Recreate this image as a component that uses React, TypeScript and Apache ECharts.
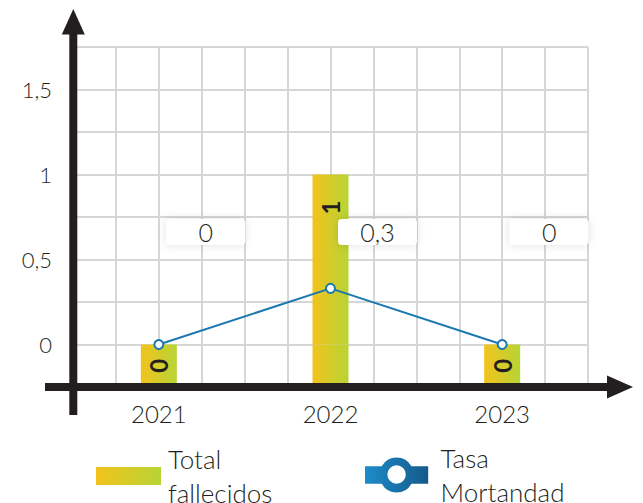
import React, { useEffect, useRef } from 'react';
import * as echarts from 'echarts';

const CATEGORIES = ['2021', '2022', '2023'];
const TOTAL_FALLECIDOS = [0, 1, 0];
const TASA_MORTANDAD = [0, 0.33, 0];
const Y_MIN = -0.25;
const Y_MAX = 1.75;
const Y_STEP = 0.25;
const Y_LABELS = [0, 0.5, 1, 1.5];
const SERIES_NAMES = ['Total fallecidos', 'Tasa Mortandad'];

const FONT = 'Lato, "Noto Sans", sans-serif';
const THIN = 300;
const INK = '#231f20';
const GRID = '#d6d6d6';
const LINE_COLOR = '#1a78b0';

const fmt = (v: number) => v.toFixed(1).replace(/\.0$/, '').replace('.', ',');

export default function App() {
  const ref = useRef<HTMLDivElement>(null);
  useEffect(() => {
    const chart = echarts.init(ref.current!, null, { renderer: 'svg' });
    const barGrad = () =>
      new echarts.graphic.LinearGradient(0, 0, 1, 0, [
        { offset: 0, color: '#f2c31c' },
        { offset: 1, color: '#b7d435' },
      ]);
    const lineGrad = new echarts.graphic.LinearGradient(0, 0, 1, 0, [
      { offset: 0, color: '#1d8cc9' },
      { offset: 1, color: '#16598a' },
    ]);
    const ringIcon =
      'path://M0 9L17.2 9A17.5 17.5 0 0 1 47.8 9L65 9L65 27L47.8 27A17.5 17.5 0 0 1 17.2 27L0 27Z M42 17.5A9.5 9.5 0 1 0 23 17.5A9.5 9.5 0 1 0 42 17.5Z';

    const legendText = {
      fontSize: 26,
      lineHeight: 34,
      color: INK,
      fontFamily: FONT,
      fontWeight: THIN,
    };

    chart.setOption({
      animation: false,
      grid: { left: 73, right: 55, top: 47, bottom: 116 },
      xAxis: [
        {
          type: 'category',
          data: CATEGORIES,
          axisLine: { show: false },
          axisTick: { show: false },
          splitLine: { show: false },
          axisLabel: { fontSize: 24, color: INK, fontFamily: FONT, fontWeight: THIN, margin: 14 },
        },
        {
          type: 'value',
          min: 0,
          max: CATEGORIES.length * 4,
          interval: 1,
          position: 'top',
          axisLine: { show: false },
          axisTick: { show: false },
          axisLabel: { show: false },
          splitLine: { show: true, lineStyle: { color: GRID, width: 2 } },
        },
      ],
      yAxis: {
        type: 'value',
        min: Y_MIN,
        max: Y_MAX,
        interval: Y_STEP,
        axisLine: { show: false },
        axisTick: { show: false },
        splitLine: { show: true, lineStyle: { color: GRID, width: 2 } },
        axisLabel: {
          formatter: (v: number) =>
            Y_LABELS.some((l) => Math.abs(l - v) < 1e-6) ? String(v).replace('.', ',') : '',
          margin: 21,
          fontSize: 22,
          color: INK,
          fontFamily: FONT,
          fontWeight: THIN,
        },
      },
      legend: [
        {
          data: [{ name: SERIES_NAMES[0], icon: 'rect' }],
          left: 96,
          top: 442,
          padding: 0,
          itemWidth: 65,
          itemHeight: 18,
          selectedMode: false,
          itemStyle: { borderWidth: 0 },
          formatter: (n: string) => n.replace(' ', '\n'),
          textStyle: { ...legendText, padding: [0, 0, 0, 2] },
        },
        {
          data: [{ name: SERIES_NAMES[1], icon: ringIcon, itemStyle: { color: lineGrad, borderWidth: 0 } }],
          left: 365,
          top: 441,
          padding: 0,
          itemWidth: 66,
          itemHeight: 35,
          selectedMode: false,
          itemStyle: { borderWidth: 0 },
          formatter: (n: string) => n.replace(' ', '\n'),
          textStyle: { ...legendText, padding: [0, 0, 0, 6] },
        },
      ],
      graphic: [
        { type: 'line', z: 100, shape: { x1: 73.3, y1: 415, x2: 73.3, y2: 30 }, style: { stroke: INK, lineWidth: 8 } },
        { type: 'polygon', z: 100, shape: { points: [[61.8, 34.5], [84.8, 34.5], [73.3, 9]] }, style: { fill: INK } },
        { type: 'line', z: 100, shape: { x1: 45, y1: 387, x2: 610, y2: 387 }, style: { stroke: INK, lineWidth: 8 } },
        { type: 'polygon', z: 100, shape: { points: [[607, 375.5], [607, 398.5], [633, 387]] }, style: { fill: INK } },
      ],
      series: [
        {
          name: 'base',
          type: 'bar',
          stack: 'bar',
          barWidth: 36,
          silent: true,
          data: CATEGORIES.map(() => Y_MIN),
          itemStyle: { color: barGrad() },
          label: {
            show: true,
            position: 'inside',
            rotate: 90,
            formatter: (p: any) => (TOTAL_FALLECIDOS[p.dataIndex] === 0 ? '0' : ''),
            fontSize: 24,
            fontWeight: 'bold',
            color: INK,
            fontFamily: FONT,
          },
        },
        {
          name: SERIES_NAMES[0],
          type: 'bar',
          stack: 'bar',
          barWidth: 36,
          data: TOTAL_FALLECIDOS.map((v) => ({ value: v, label: { show: v > 0 } })),
          itemStyle: { color: barGrad() },
          label: {
            position: ['50%', 33],
            rotate: 90,
            align: 'center',
            verticalAlign: 'middle',
            fontSize: 24,
            fontWeight: 'bold',
            color: INK,
            fontFamily: FONT,
          },
        },
        {
          name: SERIES_NAMES[1],
          type: 'line',
          data: TASA_MORTANDAD,
          symbol: 'emptyCircle',
          symbolSize: 9,
          z: 5,
          lineStyle: { color: LINE_COLOR, width: 2 },
          itemStyle: { color: LINE_COLOR, borderWidth: 2 },
          label: {
            show: true,
            formatter: (p: any) => fmt(p.value),
            fontSize: 25,
            color: INK,
            fontFamily: FONT,
            fontWeight: THIN,
            backgroundColor: '#fff',
            borderRadius: 4,
            width: 79,
            height: 26,
            lineHeight: 26,
            padding: 0,
            align: 'center',
            verticalAlign: 'middle',
            shadowBlur: 10,
            shadowColor: 'rgba(0,0,0,0.12)',
          },
          labelLayout: (p: any) => ({ x: p.rect.x + p.rect.width / 2 + 47, y: 232 }),
        },
      ],
    });
    return () => chart.dispose();
  }, []);
  return (
    <div
      ref={ref}
      style={{ position: 'fixed', left: 0, top: 0, width: 643, height: 503, background: '#fff' }}
    />
  );
}
